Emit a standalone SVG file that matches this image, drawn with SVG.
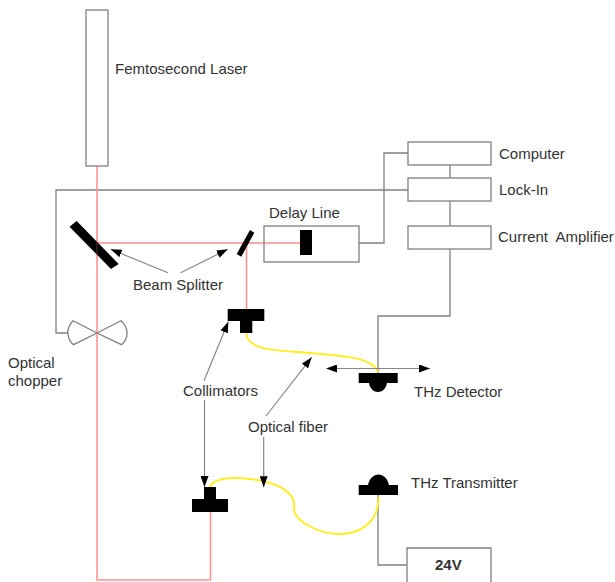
<svg xmlns="http://www.w3.org/2000/svg" width="615" height="582" viewBox="0 0 615 582">
<style>
text{font-family:"Liberation Sans",Arial,sans-serif;font-size:15px;fill:#333;white-space:pre}
.box{fill:none;stroke:#808080;stroke-width:1.3}
.w{fill:none;stroke:#808080;stroke-width:1.3}
.r{fill:none;stroke:#ff8f8f;stroke-width:1.5}
.y{fill:none;stroke:#ffee22;stroke-width:1.9}
.a{fill:none;stroke:#888;stroke-width:1.2;marker-end:url(#ah)}
.b{fill:#000}
</style>
<defs><marker id="ah" markerUnits="userSpaceOnUse" markerWidth="12" markerHeight="8" refX="11" refY="4" orient="auto"><path d="M0 0L11 4L0 8Z" fill="#000"/></marker>
<marker id="as" markerUnits="userSpaceOnUse" markerWidth="12" markerHeight="8" refX="1" refY="4" orient="auto"><path d="M11 0L0 4L11 8Z" fill="#000"/></marker></defs>
<rect width="615" height="582" fill="#fff"/>
<g id="connectors">
<path class="w" d="M408 190H56V333H68"/>
<path class="w" d="M450 165V178M450 201V226M450 249V316H378V373"/>
<path class="w" d="M359 243H384V153H408"/>
<path class="w" d="M378 495V565H407"/>
<path class="r" d="M97 166V580H210.500V512"/>
<path class="r" d="M97 243H300M246.500 243V309"/>
<path class="y" d="M246 333C248 352 280 350 310 353C340 356 372 356 378 372"/>
<path class="y" d="M210 487C214 478 232 477 250 479C278 482 296 493 294 507C293 522 322 535 342 534C365 533 379 518 378.500 497"/>
<path class="a" d="M168 272.700L110.700 249.300"/>
<path class="a" d="M180.700 272.700L227.700 249.300"/>
<path class="a" d="M204 380.700L228.300 321.700"/>
<path class="a" d="M204.500 400V487"/>
<path class="a" d="M266 416L311.700 357.300"/>
<path class="a" d="M263.700 437V487.300"/>
<path class="a" d="M327 368.500H430" marker-start="url(#as)"/>
</g>
<g id="laser"><rect class="box" x="86" y="10" width="22" height="156"/><text x="115" y="74">Femtosecond Laser</text></g>
<g id="computer"><rect class="box" x="408" y="142" width="83" height="23"/><text x="499" y="159">Computer</text></g>
<g id="lockin"><rect class="box" x="408" y="178" width="83" height="23"/><text x="499" y="195">Lock-In</text></g>
<g id="amplifier"><rect class="box" x="408" y="226" width="83" height="23"/><text x="498" y="242" xml:space="preserve">Current  Amplifier</text></g>
<g id="delay"><rect class="box" x="264" y="226" width="95" height="36"/><rect class="b" x="300" y="230" width="12" height="25"/><text x="269" y="218">Delay Line</text></g>
<g id="splitter1"><path class="b" d="M69.500 226.700L76.700 221L118.700 264L111 269Z"/><path d="M97 203V261" stroke="#ff8f8f" stroke-opacity=".35" fill="none"/></g>
<g id="splitter2"><path class="b" d="M236.700 254L250 230L254.300 232.700L241.300 256.700Z"/></g>
<text x="133" y="290">Beam Splitter</text>
<g id="chopper"><path class="w" d="M97 333L73 320.700C66 328 66 338 73.500 344.700ZM97 333L121 320.700C129 328 129 338 121.500 344.700Z"/><text x="8" y="368">Optical</text><text x="8" y="386">chopper</text></g>
<g id="collimator1"><path class="b" d="M227.700 309H264.300V321H252.300V333H240V321H227.700Z"/></g>
<g id="collimator2"><path class="b" d="M204 487H216V499H228V512H192V499H204Z"/></g>
<text x="183" y="396">Collimators</text>
<text x="248" y="432">Optical fiber</text>
<g id="detector"><path class="b" d="M358.700 373H397.700V383H387C385 395 371 395 369 383H358.700Z"/><text x="414" y="397">THz Detector</text></g>
<g id="transmitter"><path class="b" d="M358.700 495V485H368C371 471 386 471 389 485H398V495Z"/><text x="411" y="488">THz Transmitter</text></g>
<g id="supply"><path class="box" d="M407 582V548H491V582"/><text x="435" y="570" style="font-weight:700">24V</text></g>
</svg>
